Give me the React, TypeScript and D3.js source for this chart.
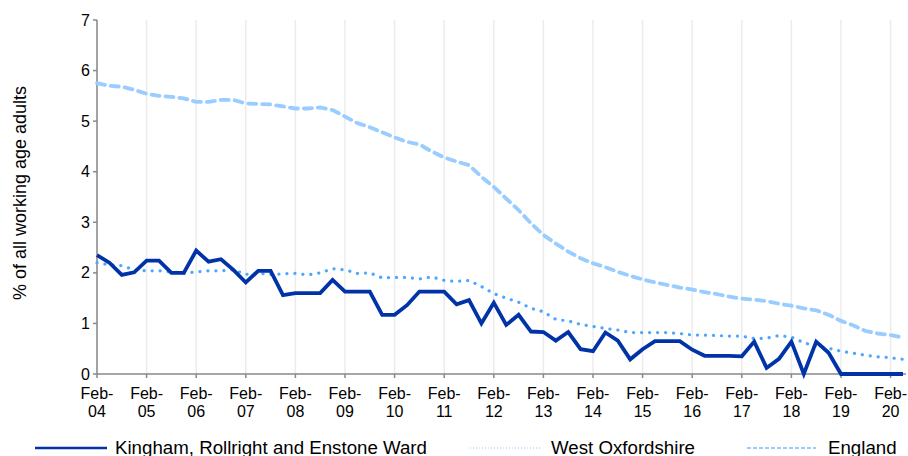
import { useEffect, useRef } from "react";
import * as d3 from "d3";

// quarterly points, Feb-04 .. May-20
const wardValues = [
  2.35, 2.2, 1.96, 2.01, 2.24, 2.24, 2.0, 2.0, 2.44, 2.22, 2.27, 2.06, 1.81, 2.04, 2.04, 1.56,
  1.6, 1.6, 1.6, 1.86, 1.63, 1.63, 1.63, 1.17, 1.17, 1.36, 1.63, 1.63, 1.63, 1.38, 1.46, 1.0,
  1.41, 0.97, 1.17, 0.84, 0.83, 0.66, 0.83, 0.49, 0.45, 0.82, 0.66, 0.29, 0.49, 0.65, 0.65, 0.65,
  0.48, 0.36, 0.36, 0.36, 0.35, 0.64, 0.12, 0.3, 0.64, 0, 0.64, 0.42, 0, 0, 0, 0, 0, 0,
];
const westOxValues = [
  2.2, 2.16, 2.14, 2.06, 2.04, 2.04, 2.02, 1.99, 2.02, 2.04, 2.04, 2.06, 1.97, 1.99, 1.97, 1.98,
  1.99, 1.96, 2.0, 2.08, 2.06, 1.99, 2.0, 1.9, 1.91, 1.91, 1.88, 1.92, 1.85, 1.83, 1.85, 1.73,
  1.59, 1.5, 1.42, 1.3, 1.23, 1.08, 1.05, 0.98, 0.94, 0.9, 0.87, 0.82, 0.82, 0.82, 0.82, 0.8,
  0.77, 0.77, 0.76, 0.75, 0.75, 0.7, 0.71, 0.76, 0.73, 0.62, 0.55, 0.51, 0.45, 0.41, 0.37, 0.34, 0.32, 0.29,
];
const englandValues = [
  5.75, 5.7, 5.68, 5.62, 5.54, 5.5, 5.48, 5.45, 5.38, 5.38, 5.42, 5.42, 5.35, 5.34, 5.33, 5.29,
  5.25, 5.25, 5.27, 5.22, 5.09, 4.96, 4.88, 4.78, 4.68, 4.59, 4.54, 4.4, 4.28, 4.2, 4.13, 3.9,
  3.7, 3.47, 3.24, 2.98, 2.75, 2.58, 2.42, 2.29, 2.19, 2.11, 2.02, 1.94, 1.87, 1.81, 1.76, 1.71,
  1.67, 1.62, 1.58, 1.53, 1.49, 1.47, 1.44, 1.39, 1.35, 1.3, 1.26, 1.17, 1.05, 0.96, 0.85, 0.8, 0.77, 0.72,
];
const yearLabels = ["04", "05", "06", "07", "08", "09", "10", "11", "12", "13", "14", "15", "16", "17", "18", "19", "20"];
const yTicks = [0, 1, 2, 3, 4, 5, 6, 7];
const seriesNames = ["Kingham, Rollright and Enstone Ward", "West Oxfordshire", "England"];

const WIDTH = 908;
const HEIGHT = 456;
const FONT = "Liberation Sans, Arial, sans-serif";

export default function App() {
  const ref = useRef<SVGSVGElement>(null);

  useEffect(() => {
    const svg = d3.select(ref.current);
    svg.selectAll("*").remove();

    const x = d3.scaleLinear().domain([0, wardValues.length - 1]).range([97, 903]);
    const y = d3.scaleLinear().domain([0, 7]).range([374, 20]);

    // vertical gridlines at each Feb
    yearLabels.forEach((_, i) => {
      svg.append("line")
        .attr("x1", x(i * 4)).attr("x2", x(i * 4))
        .attr("y1", y(7)).attr("y2", y(0))
        .attr("stroke", "#ececec").attr("stroke-width", 1.5);
    });

    // axes
    svg.append("line")
      .attr("x1", x(0)).attr("x2", x(0)).attr("y1", y(7)).attr("y2", y(0))
      .attr("stroke", "#888").attr("stroke-width", 1.5);
    svg.append("line")
      .attr("x1", x(0)).attr("x2", 906).attr("y1", y(0)).attr("y2", y(0))
      .attr("stroke", "#888").attr("stroke-width", 1.5);

    yTicks.forEach((t) => {
      svg.append("line")
        .attr("x1", x(0) - 4).attr("x2", x(0)).attr("y1", y(t)).attr("y2", y(t))
        .attr("stroke", "#888").attr("stroke-width", 1.5);
      svg.append("text")
        .text(t)
        .attr("x", 90).attr("y", y(t))
        .attr("text-anchor", "end").attr("dominant-baseline", "central")
        .attr("font-family", FONT).attr("font-size", 16).attr("fill", "#000");
    });

    yearLabels.forEach((yr, i) => {
      const px = x(i * 4);
      svg.append("line")
        .attr("x1", px).attr("x2", px).attr("y1", y(0)).attr("y2", y(0) + 4)
        .attr("stroke", "#888").attr("stroke-width", 1.5);
      const t = svg.append("text")
        .attr("text-anchor", "middle")
        .attr("font-family", FONT).attr("font-size", 16).attr("fill", "#000");
      t.append("tspan").attr("x", px).attr("y", 399).text("Feb-");
      t.append("tspan").attr("x", px).attr("y", 417).text(yr);
    });

    // y axis title
    svg.append("text")
      .text("% of all working age adults")
      .attr("transform", `translate(20, 193) rotate(-90)`)
      .attr("text-anchor", "middle").attr("dominant-baseline", "central")
      .attr("font-family", FONT).attr("font-size", 18).attr("fill", "#000");

    const line = d3.line<number>().x((_, i) => x(i)).y((d) => y(d));

    svg.append("path")
      .attr("d", line(englandValues))
      .attr("fill", "none").attr("stroke", "#99CCFF").attr("stroke-width", 3.8)
      .attr("stroke-dasharray", "8 6").attr("stroke-linecap", "round");

    svg.append("path")
      .attr("d", line(westOxValues))
      .attr("fill", "none").attr("stroke", "#4DA6FF").attr("stroke-width", 3.2)
      .attr("stroke-dasharray", "0.1 7.9").attr("stroke-linecap", "round");

    svg.append("path")
      .attr("d", line(wardValues))
      .attr("fill", "none").attr("stroke", "#0033A8").attr("stroke-width", 3.8)
      .attr("stroke-linejoin", "miter");

    // legend
    const legend = [
      { x1: 35, x2: 107, tx: 115, stroke: "#0033A8", width: 2.5, dash: null as string | null },
      { x1: 470, x2: 541, tx: 551, stroke: "#B3D9FF", width: 1.5, dash: "1 2" },
      { x1: 747, x2: 816, tx: 828, stroke: "#99CCFF", width: 2, dash: "4 2" },
    ];
    legend.forEach((l, i) => {
      const ln = svg.append("line")
        .attr("x1", l.x1).attr("x2", l.x2).attr("y1", 448).attr("y2", 448)
        .attr("stroke", l.stroke).attr("stroke-width", l.width);
      if (l.dash) ln.attr("stroke-dasharray", l.dash);
      svg.append("text")
        .text(seriesNames[i])
        .attr("x", l.tx).attr("y", 454)
        .attr("font-family", FONT).attr("font-size", 18.7).attr("fill", "#000");
    });
  }, []);

  return (
    <div style={{ position: "fixed", left: 0, top: 0 }}>
      <svg ref={ref} width={WIDTH} height={HEIGHT} style={{ display: "block", background: "#fff" }} />
    </div>
  );
}
